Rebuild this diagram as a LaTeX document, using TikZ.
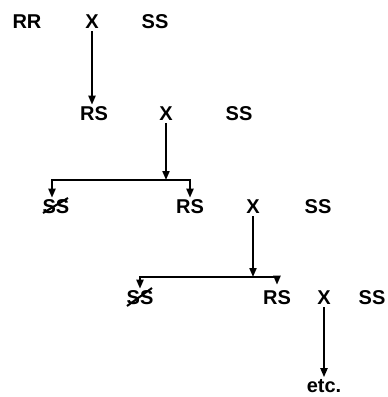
\documentclass[tikz,border=0pt]{standalone}
\usepackage{fontspec}
\setmainfont{Liberation Sans}
\usetikzlibrary{arrows.meta}
\tikzset{
  geno/.style={font=\bfseries\fontsize{20}{22}\selectfont, inner sep=2pt},
  arr/.style={line width=2pt, -{Triangle[length=9pt,width=7pt]}},
  strike/.style={line width=2pt},
}

\begin{document}
\begin{tikzpicture}[x=1pt,y=-1pt]
  \useasboundingbox (0,0) rectangle (388,397);
  % First cross
  \node[geno] (rr1) at (27,22) {RR};
  \node[geno] (x1) at (92,22) {X};
  \node[geno] (ss1) at (155,22) {SS};

  % Second cross
  \node[geno] (rs2) at (94,114) {RS};
  \node[geno] (x2) at (166,114) {X};
  \node[geno] (ss2) at (239,114) {SS};

  % Third cross
  \node[geno] (ss3) at (56,207) {SS};
  \node[geno] (rs3) at (190,207) {RS};
  \node[geno] (x3) at (253,207) {X};
  \node[geno] (ss3b) at (318,207) {SS};

  % Fourth cross
  \node[geno] (ss4) at (140,298) {SS};
  \node[geno] (rs4) at (277,298) {RS};
  \node[geno] (x4) at (324,298) {X};
  \node[geno] (ss4b) at (372,298) {SS};
  \node[geno] (etc) at (324,386) {etc.};

  \coordinate (j2) at (166,180);
  \coordinate (j3) at (253,277);

  \draw[arr] (x1) -- (x1 |- rs2.north);
  \draw[arr] (x2) -- (j2);
  \draw[arr] (j2) -| ([xshift=-4pt]ss3.north);
  \draw[arr] (j2) -| (rs3.north);
  \draw[arr] (x3) -- (j3);
  \draw[arr] (j3) -| (ss4.north);
  \draw[arr] (j3) -| ([yshift=4pt]rs4.north);
  \draw[arr] (x4) -- (etc);

  % struck out
  \draw[strike] ([shift={(-13pt,-6pt)}]ss3.center) -- ([shift={(12pt,9pt)}]ss3.center);
  \draw[strike] ([shift={(-13pt,-8pt)}]ss4.center) -- ([shift={(12pt,10pt)}]ss4.center);
\end{tikzpicture}
\end{document}
